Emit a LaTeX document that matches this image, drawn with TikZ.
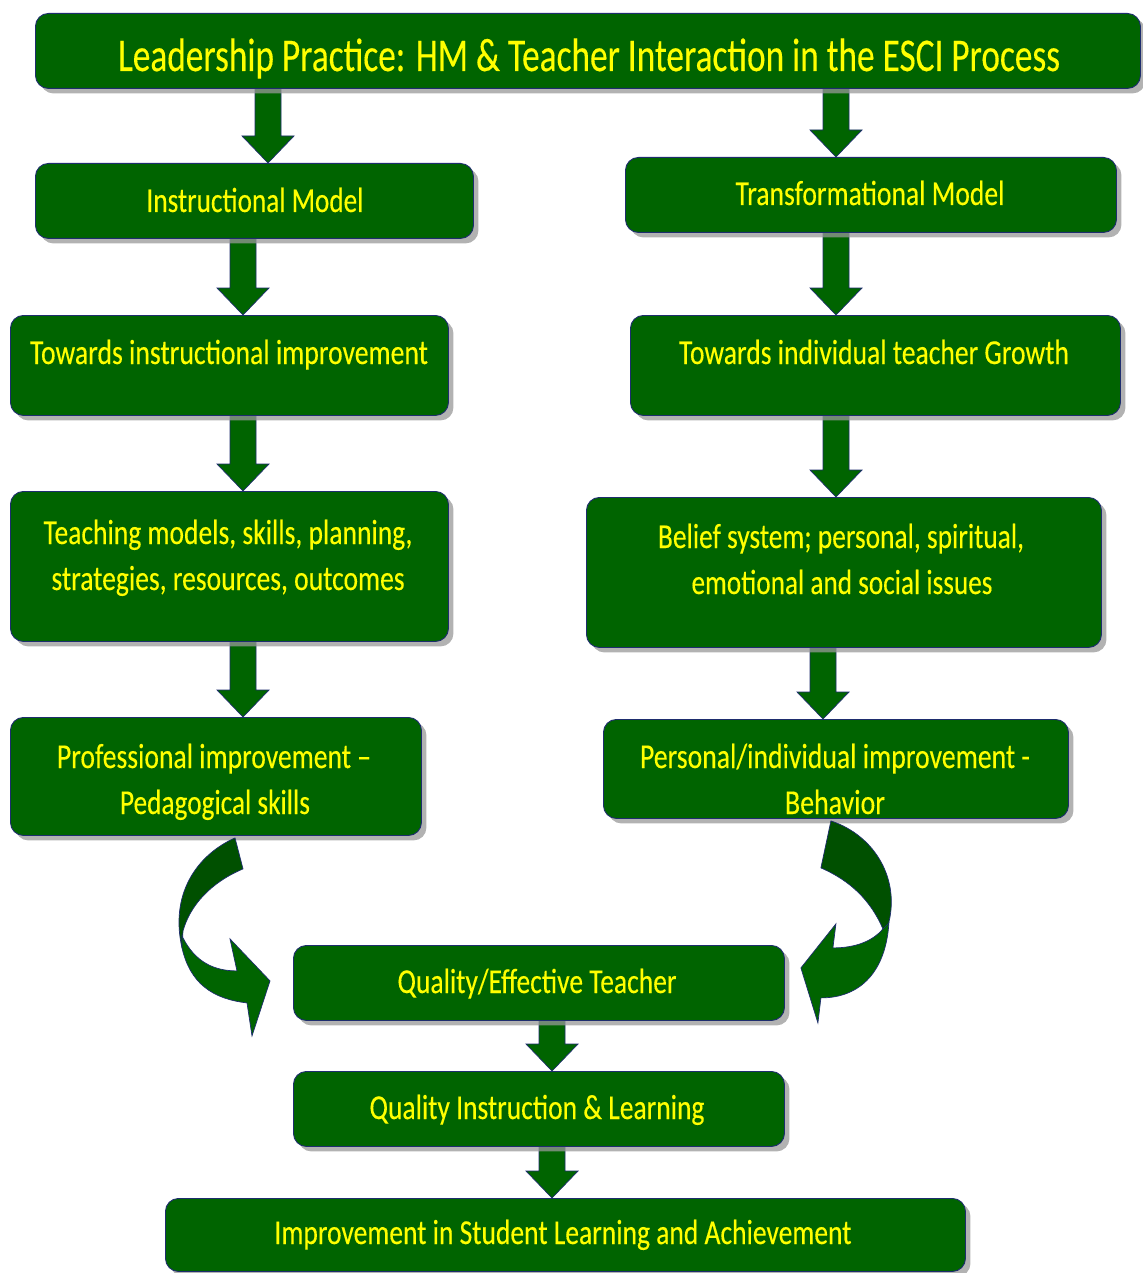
\documentclass[tikz,border=0pt]{standalone}
\usepackage{fontspec}
\usepackage{graphicx}
\setmainfont{Carlito}
\newfontfamily\lblfont[FakeBold=0.3]{Carlito}
\usetikzlibrary{calc,shadows,backgrounds}

\definecolor{boxgreen}{RGB}{0,100,0}
\definecolor{backgreen}{RGB}{0,80,0}
\definecolor{rim}{RGB}{30,45,110}
\definecolor{ink}{RGB}{255,255,0}

% squeeze a line of text to a given width (in px = pt) while keeping its height
\newcommand\fitto[2]{\resizebox{#1pt}{\height}{#2}}

\tikzset{
  box/.style={draw=rim, line width=0.9pt, fill=boxgreen, rounded corners=13pt,
    inner sep=0pt, anchor=north west,
    drop shadow={shadow xshift=5pt, shadow yshift=-5pt, fill=black!40, opacity=0.75}},
  lbl/.style={text=ink, font=\lblfont\fontsize{35}{40}\selectfont, inner sep=0pt, anchor=base},
  biglbl/.style={lbl, font=\lblfont\fontsize{47}{52}\selectfont},
  arrowbody/.style={fill=boxgreen, draw=rim, line width=0.7pt, line join=miter},
  backbody/.style={fill=backgreen, draw=rim, line width=0.7pt, line join=round},
}

% block arrow from the bottom of #1 to the top of #2, centred on column #3
\newcommand\flow[3]{%
  \draw[arrowbody] let \p1=(#1.south), \p2=(#2.north) in
    ({(#3-13)*1pt},\y1) -- ({(#3-13)*1pt},\y2+27pt) -- ({(#3-26)*1pt},\y2+27pt)
    -- ({#3*1pt},\y2) -- ({(#3+26)*1pt},\y2+27pt) -- ({(#3+13)*1pt},\y2+27pt)
    -- ({(#3+13)*1pt},\y1) -- cycle;}

\begin{document}
\begin{tikzpicture}[x=1pt,y=-1pt]
\useasboundingbox (0,0) rectangle (1142,1273);

% boxes
\node[box, minimum width=1105pt, minimum height=75pt]  (top)    at (35,13)   {};
\node[box, minimum width=438pt,  minimum height=75pt]  (inst)   at (35,163)  {};
\node[box, minimum width=491pt,  minimum height=75pt]  (trans)  at (625,157) {};
\node[box, minimum width=438pt,  minimum height=100pt] (towI)   at (10,315)  {};
\node[box, minimum width=490pt,  minimum height=100pt] (towG)   at (630,315) {};
\node[box, minimum width=438pt,  minimum height=150pt] (teach)  at (10,491)  {};
\node[box, minimum width=515pt,  minimum height=150pt] (belief) at (586,497) {};
\node[box, minimum width=411pt,  minimum height=118pt] (prof)   at (10,717)  {};
\node[box, minimum width=465pt,  minimum height=99pt]  (pers)   at (603,719) {};
\node[box, minimum width=491pt,  minimum height=75pt]  (qt)     at (293,945) {};
\node[box, minimum width=491pt,  minimum height=75pt]  (qi)     at (293,1071){};
\node[box, minimum width=800pt,  minimum height=73pt]  (imp)    at (165,1198){};

% labels
\node[biglbl] (topT)    at (589,71)   {\fitto{942}{Leadership Practice: HM \& Teacher Interaction in the ESCI Process}};
\node[lbl]    (instT)   at (255,212)  {\fitto{217}{Instructional Model}};
\node[lbl]    (transT)  at (870,205)  {\fitto{269}{Transformational Model}};
\node[lbl]    (towIT)   at (229,364)  {\fitto{398}{Towards instructional improvement}};
\node[lbl]    (towGT)   at (874,364)  {\fitto{390}{Towards individual teacher Growth}};
\node[lbl]    (teachA)  at (228,544)  {\fitto{369}{Teaching models, skills, planning,}};
\node[lbl]    (teachB)  at (228,590)  {\fitto{353}{strategies, resources, outcomes}};
\node[lbl]    (beliefA) at (841,548)  {\fitto{366}{Belief system; personal, spiritual,}};
\node[lbl]    (beliefB) at (842,594)  {\fitto{301}{emotional and social issues}};
\node[lbl]    (profA)   at (214,768)  {\fitto{314}{Professional improvement –}};
\node[lbl]    (profB)   at (215,814)  {\fitto{190}{Pedagogical skills}};
\node[lbl]    (persA)   at (835,768)  {\fitto{390}{Personal/individual improvement -}};
\node[lbl]    (persB)   at (835,814)  {\fitto{100}{Behavior}};
\node[lbl]    (qtT)     at (537,993)  {\fitto{279}{Quality/Effective Teacher}};
\node[lbl]    (qiT)     at (537,1119) {\fitto{335}{Quality Instruction \& Learning}};
\node[lbl]    (impT)    at (563,1244) {\fitto{577}{Improvement in Student Learning and Achievement}};

\begin{pgfonlayer}{background}
  \fill[white] (0,0) rectangle (1142,1273);
  % straight block arrows
  \flow{top}{inst}{268}
  \flow{top}{trans}{836}
  \flow{inst}{towI}{243}
  \flow{trans}{towG}{836}
  \flow{towI}{teach}{243}
  \flow{towG}{belief}{836}
  \flow{teach}{prof}{243}
  \flow{belief}{pers}{823}
  \flow{qt}{qi}{552}
  \flow{qi}{imp}{552}
\end{pgfonlayer}

% curved arrow: professional improvement -> quality teacher
\begin{scope}[shift={(prof.south west)}]
  \draw[backbody] (225,2) .. controls (185,20) and (160,60) .. (172,112)
    -- (173,95) .. controls (180,70) and (200,47) .. (233,33) -- cycle;
  \draw[arrowbody] (172,100) .. controls (185,127) and (205,135) .. (227,135)
    -- (220,103) -- (260,145) -- (242,200) -- (237,167)
    .. controls (202,163) and (180,147) .. (172,112) -- cycle;
\end{scope}

% curved arrow: personal improvement -> quality teacher
\begin{scope}[shift={(pers.south east)}]
  \draw[backbody] (-238,2) .. controls (-193,17) and (-168,62) .. (-181,107)
    -- (-186,110) .. controls (-198,82) and (-218,62) .. (-248,49) -- cycle;
  \draw[arrowbody] (-180,104) .. controls (-183,152) and (-208,179) .. (-248,179)
    -- (-251,204) -- (-268,149) -- (-233,105) -- (-236,129)
    .. controls (-213,129) and (-196,122) .. (-186,110) -- cycle;
\end{scope}
\end{tikzpicture}
\end{document}
